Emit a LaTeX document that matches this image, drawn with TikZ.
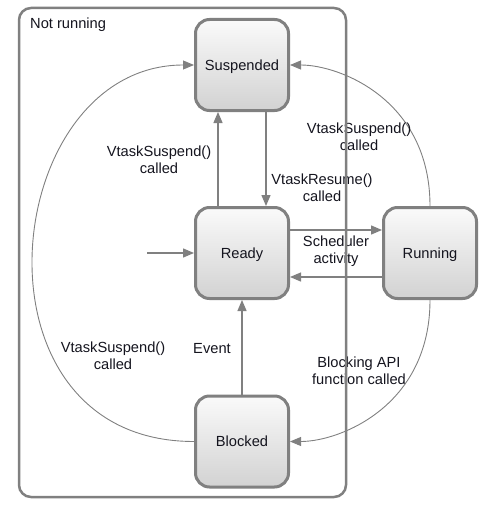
\documentclass[tikz,border=0pt]{standalone}
\usepackage{fontspec}
\setmainfont{Liberation Sans}
\usetikzlibrary{arrows.meta}
\definecolor{edgegray}{RGB}{128,128,128}
\definecolor{boxgray}{RGB}{128,128,128}
\definecolor{shadetop}{RGB}{250,250,250}
\definecolor{shadebot}{RGB}{210,210,210}
\definecolor{txt}{RGB}{20,20,30}
\begin{document}
\begin{tikzpicture}[x=1pt,y=-1pt,
  font=\fontsize{14.67}{16.5}\selectfont, text=txt,
  state/.style={draw=boxgray, line width=3pt, rounded corners=14pt, top color=shadetop, bottom color=shadebot, minimum width=93pt, minimum height=91pt, inner sep=0pt, text height=10.5pt, text depth=0pt},
  conn/.style={draw=edgegray, line width=1.3pt, -{Triangle[length=11pt,width=9pt]}},
  curve/.style={conn, line width=0.9pt},
  lbl/.style={align=center, inner sep=0pt},
  group/.style={draw=boxgray, line width=2.5pt, rounded corners=12pt, minimum width=327pt, minimum height=489pt, inner sep=0pt}]
\useasboundingbox (0,0) rectangle (497,511);
% states
\node[state] (susp) at (242,65) {Suspended};
\node[state] (ready) at (242,253) {Ready};
\node[state] (run) at (430,253) {Running};
\node[state] (blk) at (242,441.5) {Blocked};
\coordinate (entry) at (147,253);
% straight connectors
\draw[conn] ([xshift=24pt]susp.south) -- ([xshift=24pt]ready.north);
\draw[conn] ([xshift=-24pt]ready.north) -- ([xshift=-24pt]susp.south);
\draw[conn] ([yshift=23pt]ready.east) -- ([yshift=23pt]run.west);
\draw[conn] ([yshift=-24pt]run.west) -- ([yshift=-24pt]ready.east);
\draw[conn] (entry) -- (ready.west);
\draw[conn] (blk.north) -- (ready.south);
% curved connectors
\draw[curve] (run.north) .. controls +(0,-106) and +(50,0) .. (susp.east);
\draw[curve] (run.south) .. controls +(0,106) and +(50,0) .. (blk.east);
\draw[curve] (blk.west) .. controls +(-233,0) and +(-195,0) .. (susp.west);
% labels
\node[lbl] (l1) at (159,160) {VtaskSuspend()\\called};
\node[lbl] (l2) at (322,188) {VtaskResume()\\called};
\node[lbl] (l3) at (359,137) {VtaskSuspend()\\called};
\node[lbl] (l4) at (336,251) {Scheduler\\activity};
\node[lbl] (l5) at (212,349) {Event};
\node[lbl] (l6) at (113,356) {VtaskSuspend()\\called};
\node[lbl] (l7) at (359,371) {Blocking API\\function called};
% group
\node[group] (nr) at (182.5,252.5) {};
\node[lbl, anchor=west] (nrl) at (30,25) {Not running};
\end{tikzpicture}
\end{document}
